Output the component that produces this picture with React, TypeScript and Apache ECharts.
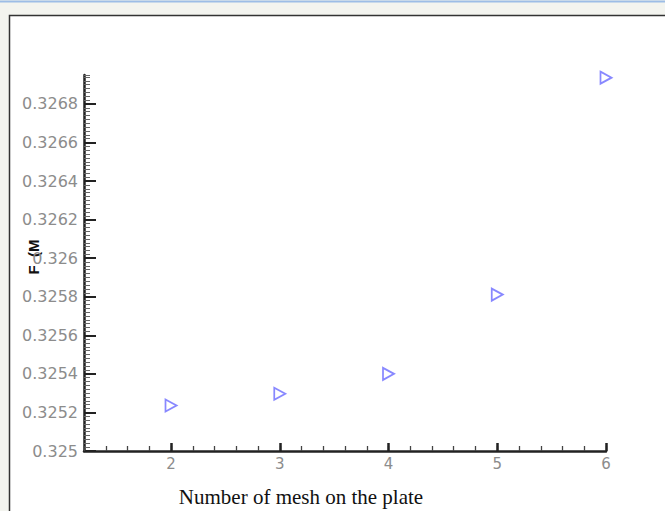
import React, { useEffect, useRef } from "react";
import * as echarts from "echarts";

const meshCounts = [2, 3, 4, 5, 6];
const fValues = [0.325236, 0.325297, 0.3254, 0.325811, 0.326936];
const xMajorTicks = [2, 3, 4, 5, 6];
const yMajorTicks = [0.325, 0.3252, 0.3254, 0.3256, 0.3258, 0.326, 0.3262, 0.3264, 0.3266, 0.3268];
const xTitle = "Number of mesh on the plate";
const yTitle = "F  (M";

const X_MIN = 1.2;
const X_MAX = 6;
const Y_MIN = 0.325;
const Y_MAX = 0.32695;

export default function App() {
  const ref = useRef<HTMLDivElement>(null);
  useEffect(() => {
    if (!ref.current) return;
    const chart = echarts.init(ref.current, null, { renderer: "svg" });
    const labelColor = "#8c8c8c";
    const labelFont = "'DejaVu Sans'";
    const fmt = (v: number) => String(+Number(v).toFixed(5));
    chart.setOption({
      animation: false,
      backgroundColor: "#f3f4ef",
      graphic: [
        { type: "rect", silent: true, z: -10, shape: { x: 9.5, y: 15.5, width: 700, height: 600 }, style: { fill: "#ffffff", stroke: "#333333", lineWidth: 1.5 } },
        { type: "line", silent: true, z: -10, shape: { x1: 0, y1: 1.5, x2: 665, y2: 1.5 }, style: { stroke: "#9dbde6", lineWidth: 2 } },
        {
          type: "text",
          x: 301,
          y: 497,
          style: { text: xTitle, fill: "#111", font: "21px 'Liberation Serif'", align: "center", verticalAlign: "middle" },
        },
        {
          type: "text",
          x: 33,
          y: 257,
          rotation: Math.PI / 2,
          style: { text: yTitle, fill: "#111", font: "bold 15px 'Liberation Sans'", align: "center", verticalAlign: "middle" },
        },
      ],
      grid: { left: 84, right: 59, top: 75, bottom: 60 },
      xAxis: [
        {
          type: "value",
          min: X_MIN,
          max: X_MAX,
          interval: 0.2,
          position: "bottom",
          axisLine: { show: true, onZero: false, lineStyle: { color: "#222", width: 2.5 } },
          axisTick: { show: true, inside: true, length: 5, lineStyle: { color: "#444", width: 1.3 } },
          axisLabel: { show: false },
          splitLine: { show: false },
        },
        {
          type: "value",
          min: X_MIN,
          max: X_MAX,
          position: "bottom",
          axisLine: { show: false, onZero: false },
          axisTick: { show: true, inside: true, length: 8, customValues: xMajorTicks, lineStyle: { color: "#222", width: 2.5 } },
          axisLabel: { show: true, customValues: xMajorTicks, color: labelColor, fontFamily: labelFont, fontSize: 15, margin: 5, formatter: fmt },
          splitLine: { show: false },
        },
      ],
      yAxis: [
        {
          type: "value",
          min: Y_MIN,
          max: Y_MAX,
          interval: 0.00002,
          position: "left",
          axisLine: { show: true, onZero: false, lineStyle: { color: "#222", width: 2.5 } },
          axisTick: { show: true, inside: true, length: 6, lineStyle: { color: "#666", width: 1 } },
          axisLabel: { show: false },
          splitLine: { show: false },
        },
        {
          type: "value",
          min: Y_MIN,
          max: Y_MAX,
          position: "left",
          axisLine: { show: false, onZero: false },
          axisTick: { show: true, inside: true, length: 12, customValues: yMajorTicks, lineStyle: { color: "#222", width: 2 } },
          axisLabel: { show: true, customValues: yMajorTicks, color: labelColor, fontFamily: labelFont, fontSize: 16, margin: 6, formatter: fmt },
          splitLine: { show: false },
        },
      ],
      series: [
        {
          type: "scatter",
          xAxisIndex: 0,
          yAxisIndex: 0,
          data: meshCounts.map((m, i) => [m, fValues[i]]),
          symbol: "path://M0,0 L10,5 L0,10 Z",
          symbolSize: [11, 12],
          itemStyle: { color: "rgba(255,255,255,0)", borderColor: "#6a6aff", borderWidth: 1.8 },
        },
      ],
    });
    return () => chart.dispose();
  }, []);
  return <div ref={ref} style={{ position: "fixed", left: 0, top: 0, width: 665, height: 511 }} />;
}
